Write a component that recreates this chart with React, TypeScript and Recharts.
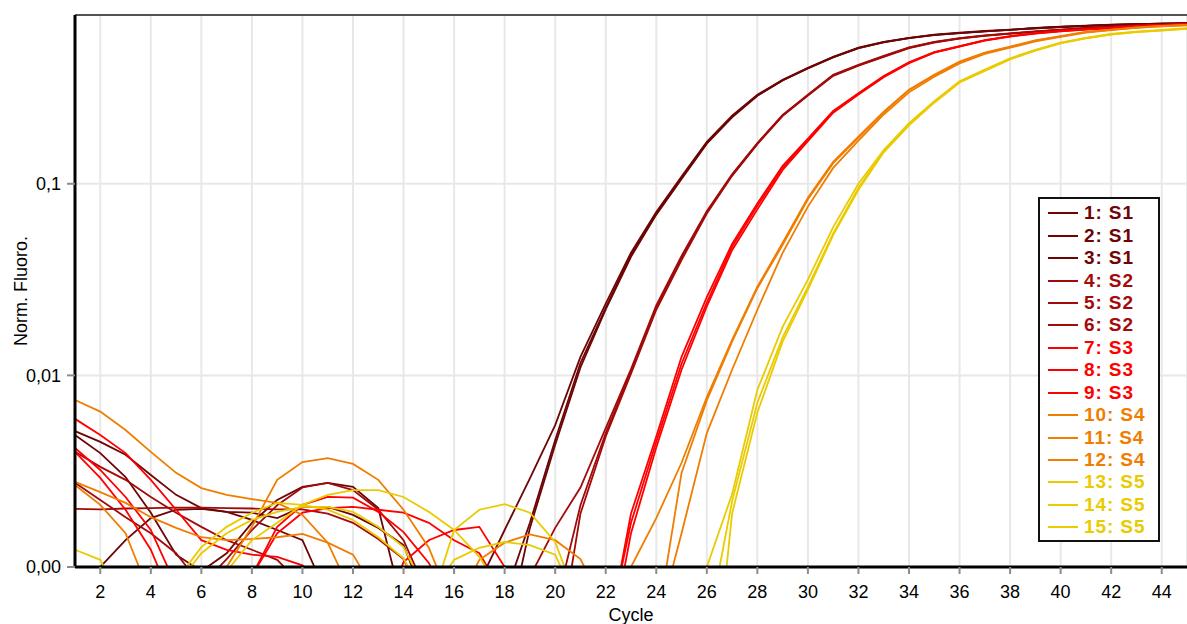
import { LineChart, Line, XAxis, YAxis, CartesianGrid, Legend, ReferenceLine } from 'recharts'

const FONT = '"Liberation Sans", Arial, sans-serif'

const CYCLES = [
  1, 2, 3, 4, 5, 6, 7, 8, 9, 10, 11, 12, 13, 14, 15, 16, 17, 18, 19, 20, 21, 22, 23,
  24, 25, 26, 27, 28, 29, 30, 31, 32, 33, 34, 35, 36, 37, 38, 39, 40, 41, 42, 43, 44, 45,
]
const X_TICKS = [2, 4, 6, 8, 10, 12, 14, 16, 18, 20, 22, 24, 26, 28, 30, 32, 34, 36, 38, 40, 42, 44]
const Y_TICKS = [0.001, 0.01, 0.1]
const Y_TICK_LABELS = ['0,00', '0,01', '0,1']

const SAMPLE_COLORS = ['#6e0505', '#a30a0a', '#ff0000', '#f07d00', '#eacb00']

// normalized fluorescence per cycle, one array per well
const RUN_1 = [0.00512, 0.0045, 0.00385, 0.00302, 0.00238, 0.00203, 0.00194, 0.00192, 0.0018, 0.00206, 0.00206, 0.00187, 0.0016, 0.0013, 0.0006, 0.0006, 0.00083, 0.00156, 0.0029, 0.0055, 0.0125, 0.0237, 0.0437, 0.0712, 0.109, 0.1656, 0.2265, 0.2916, 0.349, 0.403, 0.46, 0.513, 0.55, 0.578, 0.6, 0.614, 0.627, 0.637, 0.65, 0.66, 0.668, 0.676, 0.68, 0.685, 0.69]
const RUN_2 = [0.00489, 0.00393, 0.00295, 0.00192, 0.00116, 0.00095, 0.00118, 0.0017, 0.00224, 0.00262, 0.00275, 0.00262, 0.00203, 0.0006, 0.0006, 0.0006, 0.0006, 0.0007, 0.0017, 0.0046, 0.0116, 0.0225, 0.0426, 0.0695, 0.107, 0.163, 0.224, 0.289, 0.347, 0.401, 0.458, 0.51, 0.548, 0.576, 0.598, 0.612, 0.625, 0.636, 0.648, 0.658, 0.667, 0.675, 0.68, 0.685, 0.69]
const RUN_3 = [0.0005, 0.001, 0.00138, 0.0018, 0.00199, 0.00201, 0.00194, 0.00176, 0.00156, 0.00138, 0.0007, 0.0006, 0.0006, 0.0006, 0.0006, 0.0006, 0.0006, 0.0004, 0.0016, 0.00434, 0.011, 0.0221, 0.0416, 0.069, 0.106, 0.162, 0.222, 0.288, 0.346, 0.4, 0.457, 0.51, 0.547, 0.575, 0.597, 0.612, 0.625, 0.636, 0.648, 0.658, 0.667, 0.675, 0.68, 0.685, 0.69]
const RUN_4 = [0.00201, 0.002, 0.00202, 0.00203, 0.00204, 0.00204, 0.00203, 0.00202, 0.002, 0.002, 0.0019, 0.0017, 0.0014, 0.0011, 0.0006, 0.0006, 0.0006, 0.0006, 0.00089, 0.0016, 0.0026, 0.0053, 0.0108, 0.0232, 0.042, 0.072, 0.112, 0.163, 0.229, 0.292, 0.371, 0.418, 0.465, 0.515, 0.55, 0.576, 0.595, 0.61, 0.625, 0.637, 0.65, 0.66, 0.668, 0.675, 0.68]
const RUN_5 = [0.00399, 0.00333, 0.00285, 0.00232, 0.00192, 0.00162, 0.00138, 0.00123, 0.00109, 0.0008, 0.0006, 0.0006, 0.0006, 0.0006, 0.0006, 0.0006, 0.0006, 0.0006, 0.0006, 0.0006, 0.0021, 0.005, 0.0105, 0.0225, 0.041, 0.071, 0.111, 0.162, 0.227, 0.29, 0.368, 0.415, 0.462, 0.512, 0.548, 0.574, 0.593, 0.608, 0.623, 0.636, 0.649, 0.659, 0.667, 0.674, 0.68]
const RUN_6 = [0.00275, 0.00224, 0.00182, 0.0015, 0.00118, 0.0008, 0.0011, 0.00156, 0.0021, 0.0026, 0.00275, 0.00252, 0.00199, 0.00138, 0.0007, 0.0006, 0.0006, 0.0006, 0.0006, 0.0003, 0.0019, 0.0048, 0.0102, 0.022, 0.04, 0.07, 0.11, 0.161, 0.226, 0.289, 0.366, 0.413, 0.46, 0.51, 0.546, 0.572, 0.592, 0.607, 0.622, 0.635, 0.648, 0.658, 0.666, 0.673, 0.679]
const RUN_7 = [0.00593, 0.00489, 0.00393, 0.00285, 0.00199, 0.00138, 0.00123, 0.00116, 0.00113, 0.00102, 0.0008, 0.0006, 0.0005, 0.00106, 0.00138, 0.00156, 0.00162, 0.001, 0.0006, 0.0006, 0.0006, 0.00038, 0.0019, 0.0048, 0.0125, 0.0256, 0.0485, 0.079, 0.124, 0.172, 0.24, 0.297, 0.365, 0.43, 0.487, 0.523, 0.562, 0.59, 0.612, 0.628, 0.642, 0.652, 0.666, 0.674, 0.682]
const RUN_8 = [0.00418, 0.00321, 0.00232, 0.00156, 0.0008, 0.0005, 0.0006, 0.0009, 0.00162, 0.00211, 0.00232, 0.0023, 0.00194, 0.00152, 0.00105, 0.0006, 0.0006, 0.0006, 0.0006, 0.0006, 0.0006, 0.0004, 0.0017, 0.0045, 0.0115, 0.024, 0.0469, 0.0767, 0.1212, 0.1698, 0.2377, 0.295, 0.363, 0.4285, 0.485, 0.521, 0.56, 0.588, 0.61, 0.627, 0.64, 0.65, 0.665, 0.672, 0.68]
const RUN_9 = [0.00399, 0.00292, 0.00199, 0.00123, 0.0006, 0.0005, 0.0006, 0.0009, 0.0015, 0.00192, 0.00203, 0.00206, 0.00199, 0.00192, 0.0017, 0.00138, 0.00118, 0.0007, 0.0006, 0.0006, 0.0006, 0.0003, 0.0015, 0.0042, 0.0107, 0.0229, 0.045, 0.0735, 0.118, 0.167, 0.235, 0.292, 0.36, 0.426, 0.483, 0.519, 0.558, 0.586, 0.608, 0.625, 0.638, 0.648, 0.663, 0.67, 0.678]
const RUN_10 = [0.00744, 0.00647, 0.00519, 0.00399, 0.0031, 0.00258, 0.00238, 0.00226, 0.00216, 0.00187, 0.00134, 0.0007, 0.0006, 0.0006, 0.0006, 0.0006, 0.00109, 0.00134, 0.00148, 0.00138, 0.0011, 0.0006, 0.001, 0.0018, 0.0035, 0.0077, 0.0153, 0.029, 0.0492, 0.0845, 0.13, 0.176, 0.238, 0.31, 0.371, 0.434, 0.483, 0.519, 0.56, 0.59, 0.62, 0.637, 0.655, 0.667, 0.675]
const RUN_11 = [0.00268, 0.00211, 0.0015, 0.0007, 0.0005, 0.0005, 0.001, 0.00162, 0.00285, 0.00353, 0.0037, 0.00345, 0.00285, 0.00199, 0.00126, 0.0006, 0.0006, 0.0006, 0.0006, 0.0006, 0.0006, 0.0006, 0.0006, 0.00047, 0.0031, 0.0074, 0.015, 0.0285, 0.048, 0.083, 0.128, 0.174, 0.236, 0.308, 0.369, 0.432, 0.481, 0.517, 0.558, 0.588, 0.618, 0.635, 0.653, 0.665, 0.673]
const RUN_12 = [0.00278, 0.00246, 0.00216, 0.00182, 0.0016, 0.00143, 0.00138, 0.0014, 0.00143, 0.00149, 0.00134, 0.00116, 0.0007, 0.0006, 0.0006, 0.0006, 0.0006, 0.0006, 0.0006, 0.0006, 0.0006, 0.0006, 0.0006, 0.00047, 0.0015, 0.005, 0.0107, 0.022, 0.0436, 0.076, 0.121, 0.168, 0.23, 0.3, 0.362, 0.425, 0.476, 0.513, 0.553, 0.585, 0.615, 0.633, 0.651, 0.663, 0.672]
const RUN_13 = [0.00123, 0.00109, 0.0006, 0.0005, 0.00085, 0.00127, 0.00162, 0.00192, 0.00216, 0.00211, 0.00199, 0.00176, 0.00143, 0.00111, 0.0006, 0.00156, 0.00199, 0.00213, 0.00192, 0.00135, 0.0006, 0.0006, 0.0006, 0.0006, 0.0006, 0.001, 0.0024, 0.0084, 0.0179, 0.0316, 0.0594, 0.1, 0.15, 0.207, 0.27, 0.343, 0.394, 0.452, 0.5, 0.546, 0.578, 0.605, 0.622, 0.635, 0.648]
const RUN_14 = [0.0005, 0.0005, 0.0005, 0.0005, 0.0008, 0.00118, 0.0015, 0.00176, 0.00194, 0.00206, 0.00206, 0.00194, 0.00162, 0.00127, 0.0007, 0.00109, 0.00126, 0.00135, 0.0013, 0.00116, 0.0006, 0.0006, 0.0006, 0.0006, 0.0006, 0.00045, 0.0022, 0.0072, 0.0158, 0.029, 0.055, 0.095, 0.148, 0.204, 0.267, 0.34, 0.39, 0.448, 0.497, 0.543, 0.576, 0.603, 0.62, 0.632, 0.645]
const RUN_15 = [0.0005, 0.0005, 0.0005, 0.0005, 0.0005, 0.0005, 0.00095, 0.00138, 0.0017, 0.00211, 0.00238, 0.00252, 0.00252, 0.00232, 0.00194, 0.00156, 0.00113, 0.0007, 0.0006, 0.0006, 0.0006, 0.0006, 0.0006, 0.0006, 0.0006, 0.0001, 0.0019, 0.0064, 0.015, 0.028, 0.054, 0.093, 0.146, 0.202, 0.265, 0.338, 0.388, 0.446, 0.495, 0.541, 0.574, 0.601, 0.618, 0.63, 0.643]

const RUNS = [RUN_1, RUN_2, RUN_3, RUN_4, RUN_5, RUN_6, RUN_7, RUN_8, RUN_9, RUN_10, RUN_11, RUN_12, RUN_13, RUN_14, RUN_15]
// sample number for each well (1..5 -> S1..S5)
const RUN_SAMPLE = [1, 1, 1, 2, 2, 2, 3, 3, 3, 4, 4, 4, 5, 5, 5]

const series = RUNS.map((vals, i) => ({
  key: `w${i + 1}`,
  name: `${i + 1}: S${RUN_SAMPLE[i]}`,
  color: SAMPLE_COLORS[RUN_SAMPLE[i] - 1],
  vals,
}))

const data = CYCLES.map((c, i) => {
  const row: Record<string, number> = { cycle: c }
  series.forEach(s => { row[s.key] = s.vals[i] })
  return row
})

const YLabel = (props: any) => {
  const { viewBox } = props
  const cy = viewBox.y + viewBox.height / 2
  return (
    <text x={21} y={cy} transform={`rotate(-90 21 ${cy})`} textAnchor="middle" dominantBaseline="central"
      style={{ fontSize: 18, fontFamily: FONT, fill: '#000' }}>
      Norm. Fluoro.
    </text>
  )
}

const XLabel = (props: any) => {
  const { viewBox } = props
  const cx = viewBox.x + viewBox.width / 2
  return (
    <text x={cx} y={621} textAnchor="middle" style={{ fontSize: 18, fontFamily: FONT, fill: '#000' }}>
      Cycle
    </text>
  )
}

// legend keeps the well order (recharts would sort by name otherwise)
const renderLegend = () => (
  <div style={{
    border: '2px solid #111', background: '#fff', boxSizing: 'border-box',
    width: 122, height: 345, padding: '3px 0 0 8px', fontFamily: FONT,
  }}>
    {series.map(s => (
      <div key={s.key} style={{ display: 'flex', alignItems: 'center', height: 22.45 }}>
        <span style={{ display: 'inline-block', width: 30, height: 2, background: s.color, marginRight: 6 }} />
        <span style={{ color: s.color, fontWeight: 'bold', fontSize: 19, letterSpacing: 0.9, whiteSpace: 'pre', lineHeight: '20px' }}>
          {s.name}
        </span>
      </div>
    ))}
  </div>
)

export default function App() {
  return (
    <div style={{ position: 'absolute', left: 0, top: 0, background: '#fff', fontFamily: FONT }}>
      <LineChart width={1187} height={624} data={data} margin={{ top: 15, right: 0, bottom: 0, left: 0 }}>
        <CartesianGrid stroke="#e8e8e8" strokeWidth={2} />
        <XAxis
          dataKey="cycle" type="number" domain={[1, 45]} ticks={X_TICKS} height={57}
          tick={{ fill: '#000', fontSize: 18, fontFamily: FONT }}
          tickSize={7} tickMargin={11}
          tickLine={{ stroke: '#8c8c8c', strokeWidth: 2 }}
          axisLine={{ stroke: '#000', strokeWidth: 3 }}
          label={<XLabel />}
        />
        <YAxis
          scale="log" domain={[0.001, 0.76]} allowDataOverflow ticks={Y_TICKS} width={75}
          tickFormatter={(v: number) => Y_TICK_LABELS[Y_TICKS.indexOf(v)] ?? ''}
          tick={{ fill: '#000', fontSize: 18, fontFamily: FONT }}
          tickSize={8} tickMargin={6}
          tickLine={{ stroke: '#8c8c8c', strokeWidth: 2 }}
          axisLine={{ stroke: '#000', strokeWidth: 3 }}
          label={<YLabel />}
        />
        <ReferenceLine y={0.76} stroke="#222" strokeWidth={1.5} />
        {series.map(s => (
          <Line key={s.key} dataKey={s.key} name={s.name} stroke={s.color} strokeWidth={1.8}
            dot={false} activeDot={false} type="linear" isAnimationActive={false} />
        ))}
        <Legend layout="vertical" align="center" verticalAlign="middle"
          wrapperStyle={{ left: 1038, top: 197, width: 122 }} content={renderLegend} />
      </LineChart>
    </div>
  )
}
